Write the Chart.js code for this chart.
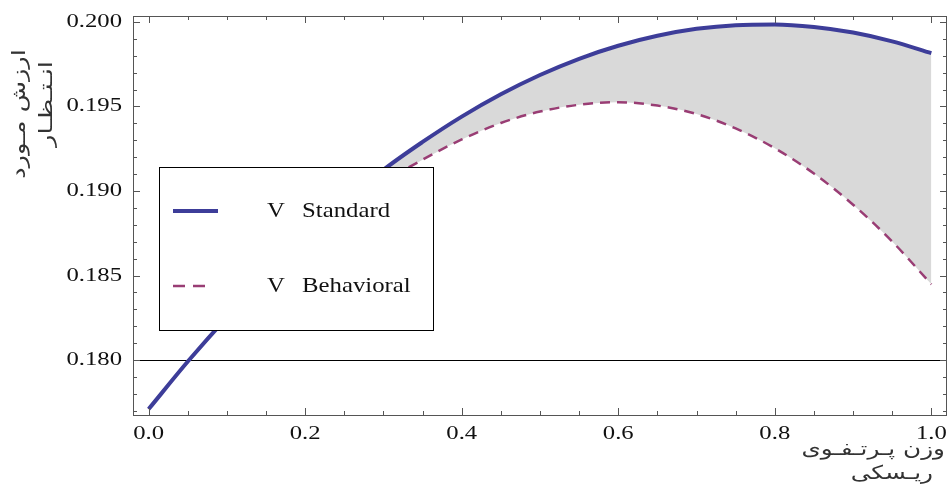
<!DOCTYPE html>
<html>
<head>
<meta charset="utf-8">
<script src="https://cdn.jsdelivr.net/npm/chart.js@4/dist/chart.umd.min.js"></script>
<style>
  html, body { margin: 0; padding: 0; background: #fff; }
  #wrap { width: 949px; height: 489px; }
</style>
</head>
<body>
<div id="wrap"><canvas id="evChart" width="949" height="489"></canvas></div>
<script>
// risky portfolio weight (x) and expected value of the two models
const weights = [0, 0.05, 0.1, 0.15, 0.2, 0.25, 0.3, 0.35, 0.4, 0.45, 0.5,
                 0.55, 0.6, 0.65, 0.7, 0.75, 0.8, 0.85, 0.9, 0.95, 1.0];
const standardValues = [0.17710, 0.17991, 0.18253, 0.18497, 0.18722, 0.18929, 0.19125,
                        0.19290, 0.19440, 0.19572, 0.19686, 0.19782, 0.19859, 0.19918,
                        0.19959, 0.19981, 0.19985, 0.19970, 0.19937, 0.19885, 0.19815];
const behavioralValues = [0.17710, 0.17991, 0.18251, 0.18488, 0.18700, 0.18885, 0.19050,
                          0.19185, 0.19305, 0.19402, 0.19470, 0.19510, 0.19525, 0.19505,
                          0.19455, 0.19370, 0.19253, 0.19103, 0.18919, 0.18701, 0.18448];

const seriesLabels = ['V  Standard', 'V  Behavioral'];

// tick labels
const xMajorTicks = [0.0, 0.2, 0.4, 0.6, 0.8, 1.0];
const xMinorTicks = [0.05, 0.1, 0.15, 0.25, 0.3, 0.35, 0.45, 0.5, 0.55, 0.65, 0.7, 0.75, 0.85, 0.9, 0.95];
const yMajorTicks = [0.180, 0.185, 0.190, 0.195, 0.200];
const yMinorTicks = [0.177, 0.178, 0.179, 0.181, 0.182, 0.183, 0.184, 0.186, 0.187, 0.188,
                     0.189, 0.191, 0.192, 0.193, 0.194, 0.196, 0.197, 0.198, 0.199];
const axisLineValue = 0.180;

const yTitleLines = ['ارزش مـورد', 'انـتـظـار'];
const xTitleLines = ['وزن پـرتـفـوی', 'ریـسکی'];

const FRAME = '#555555';

// draw text squeezed/stretched horizontally like the original figure
function stretchedText(ctx, text, x, y, align, sx) {
  ctx.save();
  ctx.translate(x, y);
  ctx.scale(sx, 1);
  ctx.textAlign = align;
  ctx.fillText(text, 0, 0);
  ctx.restore();
}

const decorPlugin = {
  id: 'decor',
  beforeDatasetsDraw(chart) {
    const { ctx, chartArea, scales } = chart;
    const yy = Math.round(scales.y.getPixelForValue(axisLineValue)) + 0.5;
    ctx.save();
    ctx.strokeStyle = '#000';
    ctx.lineWidth = 1;
    ctx.beginPath();
    ctx.moveTo(chartArea.left, yy);
    ctx.lineTo(chartArea.right, yy);
    ctx.stroke();
    ctx.restore();
  },
  afterDatasetsDraw(chart) {
    const { ctx, chartArea: a, scales } = chart;
    const x = scales.x, y = scales.y;
    ctx.save();

    // frame
    ctx.strokeStyle = FRAME;
    ctx.lineWidth = 1;
    ctx.strokeRect(Math.round(a.left) + 0.5, Math.round(a.top) + 0.5,
                   Math.round(a.right - a.left) - 1, Math.round(a.bottom - a.top));

    // inward ticks on all four sides
    ctx.beginPath();
    const xt = (v, len) => {
      const px = Math.round(x.getPixelForValue(v)) + 0.5;
      ctx.moveTo(px, a.bottom); ctx.lineTo(px, a.bottom - len);
      ctx.moveTo(px, a.top); ctx.lineTo(px, a.top + len);
    };
    const yt = (v, len) => {
      const py = Math.round(y.getPixelForValue(v)) + 0.5;
      ctx.moveTo(a.left, py); ctx.lineTo(a.left + len, py);
      ctx.moveTo(a.right, py); ctx.lineTo(a.right - len, py);
    };
    xMajorTicks.forEach(v => xt(v, 7));
    xMinorTicks.forEach(v => xt(v, 4));
    yMajorTicks.forEach(v => yt(v, 7));
    yMinorTicks.forEach(v => yt(v, 4));
    ctx.stroke();

    // legend box
    const lb = { left: 159.5, top: 167.5, w: 274, h: 163 };
    ctx.fillStyle = '#fff';
    ctx.fillRect(lb.left, lb.top, lb.w, lb.h);
    ctx.strokeStyle = '#000';
    ctx.strokeRect(lb.left, lb.top, lb.w, lb.h);

    const rows = [211, 286];
    chart.data.datasets.forEach((ds, i) => {
      const ry = rows[i];
      ctx.strokeStyle = ds.borderColor;
      ctx.lineWidth = ds.borderWidth;
      ctx.setLineDash(i === 0 ? [] : [12, 8]);
      ctx.beginPath();
      ctx.moveTo(173, ry);
      ctx.lineTo(i === 0 ? 218 : 205, ry);
      ctx.stroke();
      ctx.setLineDash([]);
      const parts = ds.label.split('  ');
      ctx.fillStyle = '#111';
      ctx.font = '21px "Liberation Serif", serif';
      ctx.textBaseline = 'middle';
      stretchedText(ctx, parts[0], 267, ry, 'left', 1.18);
      stretchedText(ctx, parts[1], 302, ry, 'left', 1.18);
    });
    ctx.restore();
  },
  afterDraw(chart) {
    const { ctx, chartArea: a, scales } = chart;
    ctx.save();
    ctx.fillStyle = '#111';
    ctx.font = '19px "Liberation Serif", serif';
    ctx.textBaseline = 'middle';
    yMajorTicks.forEach(v => {
      stretchedText(ctx, v.toFixed(3), 122, scales.y.getPixelForValue(v), 'right', 1.3);
    });
    xMajorTicks.forEach(v => {
      stretchedText(ctx, v.toFixed(1), scales.x.getPixelForValue(v), 434, 'center', 1.3);
    });

    // axis titles
    ctx.font = '19px "DejaVu Sans", sans-serif';
    ctx.fillStyle = '#333';
    ctx.direction = 'rtl';
    const yPos = [[20, 114], [47, 104]];
    yTitleLines.forEach((t, i) => {
      ctx.save();
      ctx.translate(yPos[i][0], yPos[i][1]);
      ctx.rotate(-Math.PI / 2);
      stretchedText(ctx, t, 0, 0, 'center', 1.35);
      ctx.restore();
    });
    stretchedText(ctx, xTitleLines[0], 945, 450, 'right', 1.3);
    stretchedText(ctx, xTitleLines[1], 933, 474, 'right', 1.3);
    ctx.restore();
  }
};

const ctx = document.getElementById('evChart').getContext('2d');
new Chart(ctx, {
  type: 'line',
  data: {
    datasets: [
      {
        label: seriesLabels[0],
        data: weights.map((w, i) => ({ x: w, y: standardValues[i] })),
        borderColor: '#3d3d99',
        borderWidth: 4,
        backgroundColor: '#d9d9d9',
        fill: 1,
        pointRadius: 0,
        cubicInterpolationMode: 'monotone'
      },
      {
        label: seriesLabels[1],
        data: weights.map((w, i) => ({ x: w, y: behavioralValues[i] })),
        borderColor: '#993d74',
        borderWidth: 2.5,
        borderDash: [10, 7],
        fill: false,
        pointRadius: 0,
        cubicInterpolationMode: 'monotone'
      }
    ]
  },
  options: {
    responsive: false,
    animation: false,
    devicePixelRatio: 1,
    layout: { padding: { left: 133, right: 2, top: 16, bottom: 74 } },
    scales: {
      x: { type: 'linear', min: -0.02, max: 1.02, display: false },
      y: { type: 'linear', min: 0.17675, max: 0.20035, display: false }
    },
    plugins: {
      legend: { display: false },
      tooltip: { enabled: false },
      filler: { drawTime: 'beforeDatasetsDraw' }
    }
  },
  plugins: [decorPlugin]
});
</script>
</body>
</html>
